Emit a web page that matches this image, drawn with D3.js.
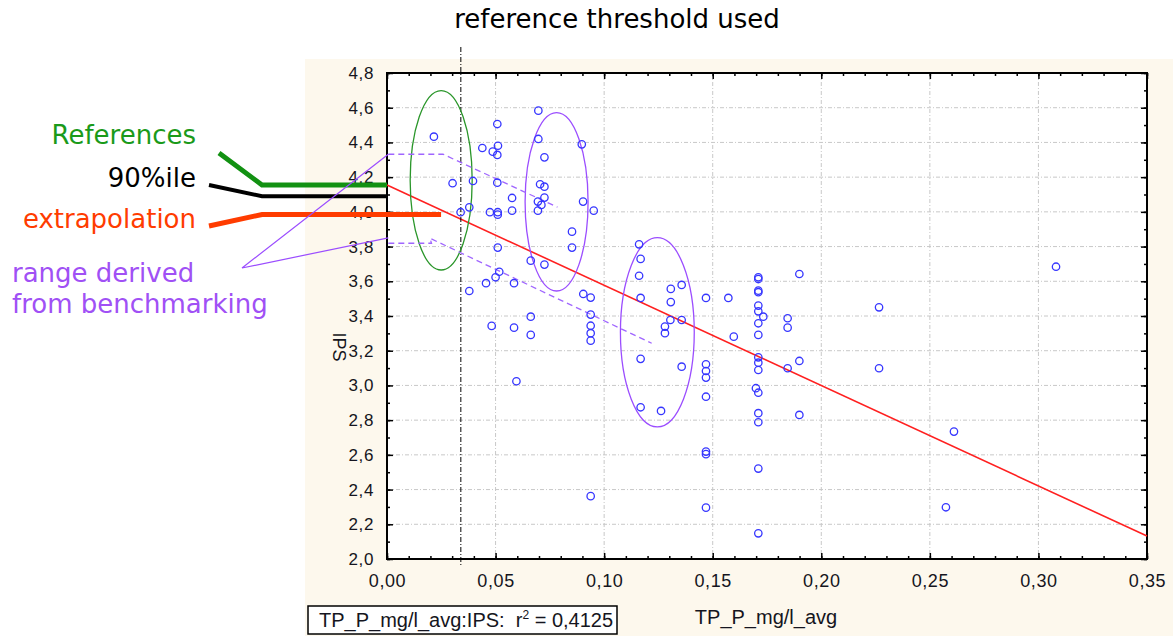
<!DOCTYPE html>
<html>
<head>
<meta charset="utf-8">
<script src="https://cdn.jsdelivr.net/npm/d3@7"></script>
<style>
  body { margin: 0; background: #fff; }
  svg { display: block; }
  text { font-family: "Liberation Sans", Arial, sans-serif; }
  .note { font-family: "DejaVu Sans", Verdana, sans-serif; }
  .pre { white-space: pre; }
</style>
</head>
<body>
<svg id="chart" width="1173" height="636"></svg>
<script>
// TP_P_mg/l_avg (x) and IPS (y) per site
const tpP = [
  0.0216, 0.0302, 0.0396, 0.0339, 0.0379, 0.0379, 0.0439, 0.0508, 0.0511, 0.0487,
  0.0508, 0.0508, 0.0474, 0.0510, 0.0510, 0.0576, 0.0576, 0.0510, 0.0517, 0.0500,
  0.0456, 0.0585, 0.0697, 0.0697, 0.0725, 0.0705, 0.0725, 0.0725, 0.0695, 0.0711,
  0.0695, 0.0662, 0.0725, 0.0897, 0.0903, 0.0952, 0.0852, 0.0852, 0.0904, 0.0938,
  0.0938, 0.0662, 0.0482, 0.0585, 0.0662, 0.0596, 0.0938, 0.0938, 0.0938, 0.0938,
  0.1161, 0.1168, 0.1161, 0.1168, 0.1307, 0.1357, 0.1307, 0.1305, 0.1357, 0.1280,
  0.1280, 0.1168, 0.1357, 0.1168, 0.1262,
  0.1469, 0.1469, 0.1469, 0.1469, 0.1469, 0.1469, 0.1469, 0.1469, 0.1572, 0.1597,
  0.1710, 0.1710, 0.1710, 0.1710, 0.1710, 0.1710, 0.1710, 0.1710, 0.1710, 0.1710,
  0.1710, 0.1710, 0.1710, 0.1710, 0.1710, 0.1710, 0.1699, 0.1733,
  0.1845, 0.1845, 0.1845, 0.1899, 0.1899, 0.1899, 0.2266, 0.2266, 0.2574, 0.2611, 0.3081
];
const ips = [
  4.433, 4.165, 4.178, 3.998, 4.026, 3.544, 4.368, 4.506, 4.381, 4.347,
  4.328, 4.168, 3.998, 3.998, 3.984, 4.080, 4.007, 3.794, 3.655, 3.623,
  3.589, 3.589, 4.583, 4.420, 4.314, 4.159, 4.145, 4.082, 4.059, 4.040,
  4.007, 3.719, 3.696, 4.389, 4.059, 4.007, 3.886, 3.794, 3.527, 3.506,
  3.408, 3.396, 3.343, 3.333, 3.291, 3.024, 3.344, 3.301, 3.258, 2.362,
  3.813, 3.729, 3.632, 3.504, 3.556, 3.579, 3.480, 3.377, 3.377, 3.339,
  3.301, 3.153, 3.108, 2.874, 2.853,
  3.504, 3.122, 3.083, 3.045, 2.935, 2.619, 2.604, 2.296, 3.504, 3.281,
  3.623, 3.613, 3.546, 3.537, 3.460, 3.427, 3.358, 3.291, 3.162, 3.131,
  3.089, 2.958, 2.840, 2.788, 2.521, 2.148, 2.984, 3.396,
  3.387, 3.333, 3.099, 3.642, 3.141, 2.830, 3.450, 3.099, 2.298, 2.734, 3.684
];

const xTicks = [0, 0.05, 0.10, 0.15, 0.20, 0.25, 0.30, 0.35];
const yTicks = [2.0, 2.2, 2.4, 2.6, 2.8, 3.0, 3.2, 3.4, 3.6, 3.8, 4.0, 4.2, 4.4, 4.6, 4.8];

// fitted line IPS = a + b * TP
const fitIntercept = 4.155;
const fitSlope = -5.78;
const rSquared = '0,4125';
const thresholdTP = 0.034;

// ellipses drawn round groups of sites (cx, cy, rx, ry in data units)
const refGroup = [0.02495, 4.182, 0.01428, 0.517];
const benchGroups = [[0.0781, 4.058, 0.0145, 0.514], [0.1245, 3.306, 0.0170, 0.545]];

// benchmark range: dashed upper and lower bands
const rangeUpper = [[0.0006, 4.332], [0.0258, 4.332], [0.0785, 4.027]];
const rangeLower = [[0.0006, 3.819], [0.0205, 3.819], [0.0198, 3.848], [0.1219, 3.243]];

// levels marked on the left (References, 90%ile, extrapolation)
const levels = [
  { label: 'References', value: 4.155, color: '#129112', text: '#1a9a1a', width: 5, end: 0 },
  { label: '90%ile', value: 4.09, color: '#000', text: '#000', width: 4, end: 0 },
  { label: 'extrapolation', value: 3.985, color: '#ff3c00', text: '#ff3c00', width: 5, end: 0.0249 }
];

const svg = d3.select('#chart');
const x = d3.scaleLinear().domain([0, 0.35]).range([387, 1147]);
const y = d3.scaleLinear().domain([2.0, 4.8]).range([559, 73]);
const comma = (f) => (d) => d3.format(f)(d).replace('.', ',');

// cream panel + white plot
svg.append('rect').attr('x', 305).attr('y', 59).attr('width', 868).attr('height', 577).attr('fill', '#fdf8ed');
svg.append('rect').attr('x', x(0)).attr('y', y(4.8)).attr('width', x(0.35) - x(0)).attr('height', y(2) - y(4.8)).attr('fill', '#fff');

// grid
const grid = svg.append('g').attr('stroke', '#c8c8c8').attr('stroke-width', 1).attr('stroke-dasharray', '4,2,1,2');
grid.selectAll('.gx').data(xTicks.slice(1, -1)).enter().append('line')
  .attr('x1', d => x(d)).attr('x2', d => x(d)).attr('y1', y(4.8)).attr('y2', y(2));
grid.selectAll('.gy').data(yTicks.slice(1, -1)).enter().append('line')
  .attr('y1', d => y(d)).attr('y2', d => y(d)).attr('x1', x(0)).attr('x2', x(0.35));

// axes: major ticks inward, minor ticks between
const minorX = d3.range(0, 0.3501, 0.01);
const minorY = d3.range(2.0, 4.801, 0.1);
const drawAxis = (axis, ticks, size, transform, labels, pad) => {
  const g = svg.append('g').attr('transform', transform)
    .call(axis.tickValues(ticks).tickSize(size).tickSizeOuter(0).tickPadding(pad || 0)
      .tickFormat(labels || (() => '')));
  g.select('.domain').remove();
  g.selectAll('line').attr('stroke', '#000').attr('stroke-width', 1.5);
  return g;
};
drawAxis(d3.axisBottom(x), minorX, -3, `translate(0,${y(2)})`);
drawAxis(d3.axisTop(x), minorX, -3, `translate(0,${y(4.8)})`);
drawAxis(d3.axisLeft(y), minorY, -3, `translate(${x(0)},0)`);
drawAxis(d3.axisRight(y), minorY, -3, `translate(${x(0.35)},0)`);
const xb = drawAxis(d3.axisBottom(x), xTicks, -6, `translate(0,${y(2)})`, comma('.2f'), 15);
drawAxis(d3.axisTop(x), xTicks, -6, `translate(0,${y(4.8)})`);
const yl = drawAxis(d3.axisLeft(y), yTicks, -6, `translate(${x(0)},0)`, comma('.1f'), 13);
drawAxis(d3.axisRight(y), yTicks, -6, `translate(${x(0.35)},0)`);
xb.selectAll('text').attr('font-size', 18).attr('fill', '#151520').attr('letter-spacing', 0.6);
yl.selectAll('text').attr('font-size', 17).attr('fill', '#151520').attr('letter-spacing', 0.6);

svg.append('rect').attr('x', x(0)).attr('y', y(4.8)).attr('width', x(0.35) - x(0)).attr('height', y(2) - y(4.8))
  .attr('fill', 'none').attr('stroke', '#000').attr('stroke-width', 2);

// axis titles
svg.append('text').attr('x', 766).attr('y', 624).attr('text-anchor', 'middle').attr('font-size', 20).attr('fill', '#151520')
  .text('TP_P_mg/l_avg');
svg.append('text').attr('transform', 'translate(333,347) rotate(90)').attr('text-anchor', 'middle')
  .attr('font-size', 18).attr('fill', '#151520').text('IPS');

// r² box
svg.append('rect').attr('x', 308).attr('y', 606).attr('width', 309).attr('height', 28)
  .attr('fill', '#fff').attr('stroke', '#000').attr('stroke-width', 1.5);
const rt = svg.append('text').attr('class', 'pre').attr('x', 319).attr('y', 627).attr('font-size', 20).attr('fill', '#151520');
rt.append('tspan').text('TP_P_mg/l_avg:IPS:  r');
rt.append('tspan').attr('font-size', 12).attr('dy', -8).text('2');
rt.append('tspan').attr('dy', 8).text(' = ' + rSquared);

// regression line
svg.append('line')
  .attr('x1', x(0)).attr('y1', y(fitIntercept))
  .attr('x2', x(0.35)).attr('y2', y(fitIntercept + fitSlope * 0.35))
  .attr('stroke', '#ff2020').attr('stroke-width', 1.6);

// threshold line + title
svg.append('line').attr('x1', x(thresholdTP)).attr('x2', x(thresholdTP)).attr('y1', 47).attr('y2', 566)
  .attr('stroke', '#000').attr('stroke-width', 1).attr('stroke-dasharray', '5,2,1,2');
svg.append('text').attr('class', 'note').attr('x', 617).attr('y', 28).attr('text-anchor', 'middle')
  .attr('font-size', 26).attr('fill', '#000').text('reference threshold used');

// ellipses
const ell = (e, color) => svg.append('ellipse')
  .attr('cx', x(e[0])).attr('cy', y(e[1]))
  .attr('rx', x(e[2]) - x(0)).attr('ry', y(0) - y(e[3]))
  .attr('fill', 'none').attr('stroke', color).attr('stroke-width', 1.3);
ell(refGroup, '#2a962a');
benchGroups.forEach(e => ell(e, '#9b4dff'));

// dashed range
const line = d3.line().x(d => x(d[0])).y(d => y(d[1]));
[rangeUpper, rangeLower].forEach(r => svg.append('path').attr('d', line(r))
  .attr('fill', 'none').attr('stroke', '#a066ff').attr('stroke-width', 1.3).attr('stroke-dasharray', '6,4'));

// points
svg.append('g').selectAll('circle').data(tpP).enter().append('circle')
  .attr('cx', d => x(d)).attr('cy', (d, i) => y(ips[i])).attr('r', 3.7)
  .attr('fill', 'none').attr('stroke', '#3636ff').attr('stroke-width', 1.3);

// left annotations
const startY = [153, 185, 226];
const textY = [144, 187, 228];
levels.forEach((l, i) => {
  const yy = y(l.value);
  svg.append('path')
    .attr('d', d3.line()([[i === 0 ? 219 : 209, startY[i]], [262, yy], [x(l.end), yy]]))
    .attr('fill', 'none').attr('stroke', l.color).attr('stroke-width', l.width);
  svg.append('text').attr('class', 'note').attr('x', 196).attr('y', textY[i]).attr('text-anchor', 'end')
    .attr('font-size', 26).attr('fill', l.text).text(l.label);
});
const apex = [242, 268];
svg.append('path').attr('d', d3.line()([[x(rangeUpper[0][0]), y(rangeUpper[0][1])], apex, [x(rangeLower[0][0]), y(3.85)]]))
  .attr('fill', 'none').attr('stroke', '#9b4dff').attr('stroke-width', 1.2);
svg.append('text').attr('class', 'note').attr('x', 12).attr('y', 282).attr('font-size', 26).attr('fill', '#a050f5').text('range derived');
svg.append('text').attr('class', 'note').attr('x', 12).attr('y', 313).attr('font-size', 26).attr('fill', '#a050f5').text('from benchmarking');
</script>
</body>
</html>
